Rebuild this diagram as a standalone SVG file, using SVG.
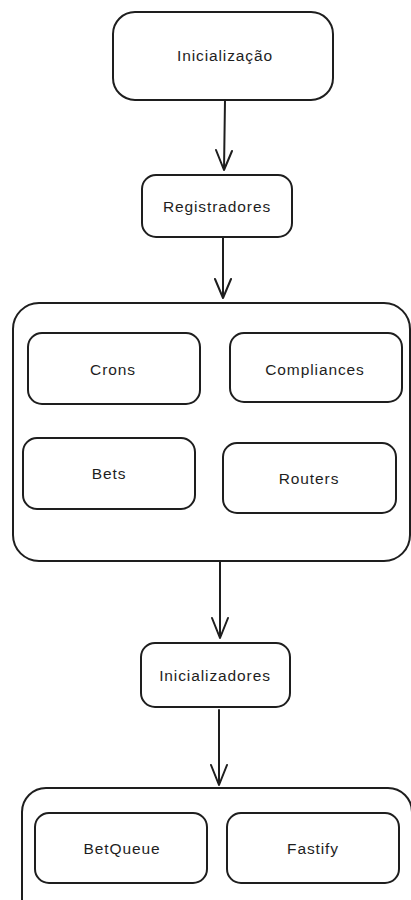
<svg xmlns="http://www.w3.org/2000/svg" width="411" height="900" viewBox="0 0 411 900">
  <style>
    .box { fill: #ffffff; stroke: #1e1e1e; stroke-width: 2; }
    .lbl { font-family: "Liberation Sans", "DejaVu Sans", sans-serif; font-size: 15.5px; fill: #1e1e1e; text-anchor: middle; dominant-baseline: central; letter-spacing: 0.9px; }
    .edge { fill: none; stroke: #1e1e1e; stroke-width: 2; stroke-linecap: round; stroke-linejoin: round; }
  </style>
  <rect width="411" height="900" fill="#ffffff"/>

  <g id="inicializacao">
    <rect class="box" x="113" y="12" width="220" height="88" rx="22"/>
    <text class="lbl" x="225" y="55">Inicialização</text>
  </g>

  <g id="registradores">
    <rect class="box" x="142" y="175" width="150" height="62" rx="14"/>
    <text class="lbl" x="217" y="206">Registradores</text>
  </g>

  <g id="registro-grupo">
    <rect class="box" x="13" y="303" width="397" height="258" rx="26"/>
  </g>

  <g id="crons">
    <rect class="box" x="28" y="333" width="172" height="71" rx="14"/>
    <text class="lbl" x="113" y="369">Crons</text>
  </g>

  <g id="compliances">
    <rect class="box" x="230" y="333" width="172" height="69" rx="14"/>
    <text class="lbl" x="315" y="369">Compliances</text>
  </g>

  <g id="bets">
    <rect class="box" x="23" y="438" width="172" height="71" rx="14"/>
    <text class="lbl" x="109" y="473">Bets</text>
  </g>

  <g id="routers">
    <rect class="box" x="223" y="443" width="173" height="70" rx="14"/>
    <text class="lbl" x="309" y="478">Routers</text>
  </g>

  <g id="inicializadores">
    <rect class="box" x="141" y="643" width="149" height="64" rx="14"/>
    <text class="lbl" x="215" y="675">Inicializadores</text>
  </g>

  <g id="inicializadores-grupo">
    <rect class="box" x="22" y="788" width="390" height="140" rx="24"/>
  </g>

  <g id="betqueue">
    <rect class="box" x="35" y="813" width="172" height="70" rx="14"/>
    <text class="lbl" x="122" y="848">BetQueue</text>
  </g>

  <g id="fastify">
    <rect class="box" x="227" y="813" width="172" height="70" rx="14"/>
    <text class="lbl" x="313" y="848">Fastify</text>
  </g>

  <g id="connectors">
    <path class="edge" d="M225 100 L224 170 M216 150 L224 170 L232 151"/>
    <path class="edge" d="M223 237 L223 298 M215 279 L223 298 L231 279"/>
    <path class="edge" d="M220 561 L220 638 M212 618 L220 638 L228 618"/>
    <path class="edge" d="M219 710 L219 785 M211 765 L219 785 L227 765"/>
  </g>
</svg>
